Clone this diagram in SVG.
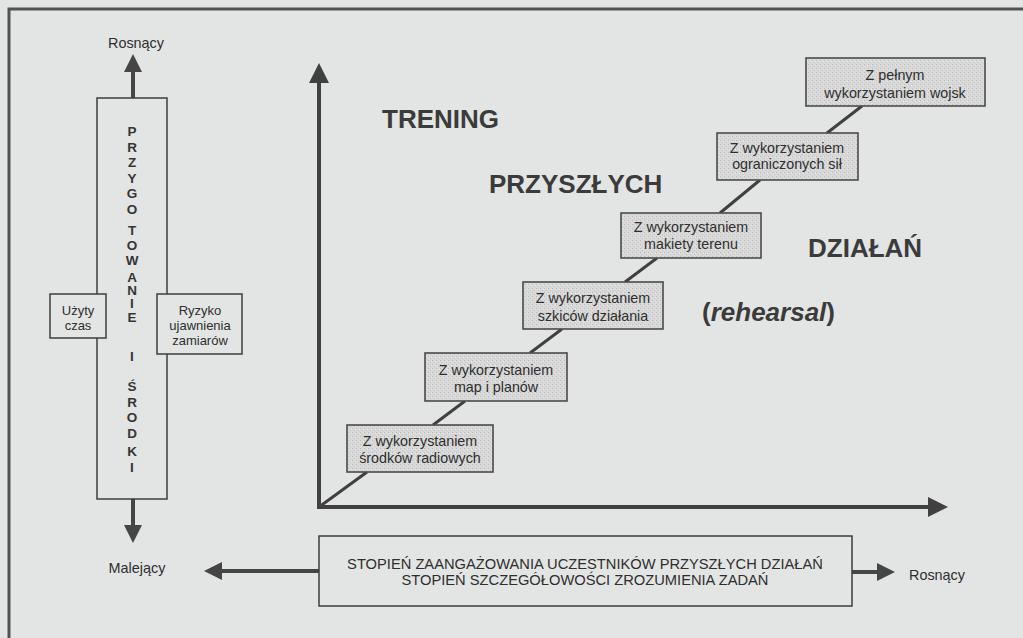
<svg xmlns="http://www.w3.org/2000/svg" width="1023" height="638" viewBox="0 0 1023 638">
  <style>
    .frame { stroke: #535353; stroke-width: 3; fill: none; }
    .axis { stroke: #404040; stroke-width: 4; fill: none; }
    .arrow { stroke: #454545; stroke-width: 4; fill: none; }
    .link { stroke: #404040; stroke-width: 3; fill: none; }
    .box { fill: #e3e5e4; stroke: #3c3c3c; stroke-width: 1.5; }
    .step { fill: url(#stipple); stroke: #4a4a4a; stroke-width: 1.6; }
    .t { font-family: "Liberation Sans", Arial, sans-serif; fill: #2e2e2e; text-anchor: middle; }
    .s14 { font-size: 14.3px; }
    .s13 { font-size: 13px; }
    .lbl { font-size: 14.4px; }
    .cap { font-size: 14.7px; }
    .col { font-family: "Liberation Sans", Arial, sans-serif; font-size: 13.5px; font-weight: bold; fill: #363636; text-anchor: middle; }
    .big { font-family: "Liberation Sans", Arial, sans-serif; font-size: 26px; font-weight: bold; fill: #3b3b3b; }
  </style>
  <defs>
    <pattern id="stipple" width="4" height="4" patternUnits="userSpaceOnUse">
      <rect width="4" height="4" fill="#d8d9d8"/>
      <rect x="0" y="0" width="1" height="1" fill="#b9bab9"/>
      <rect x="2" y="2" width="1" height="1" fill="#c4c5c4"/>
      <rect x="3" y="1" width="1" height="1" fill="#e6e7e6"/>
    </pattern>
    <marker id="headL" viewBox="0 0 20 20" markerWidth="20" markerHeight="20" refX="10" refY="10" orient="auto" markerUnits="userSpaceOnUse">
      <path d="M0,0 L20,10 L0,20 Z" fill="#404040"/>
    </marker>
    <marker id="headS" viewBox="0 0 18 18" markerWidth="18" markerHeight="18" refX="9" refY="9" orient="auto" markerUnits="userSpaceOnUse">
      <path d="M0,0 L18,9 L0,18 Z" fill="#454545"/>
    </marker>
  </defs>

  <!-- page -->
  <rect x="0" y="0" width="1023" height="638" fill="#e3e5e4"/>
  <path class="frame" d="M1023,9 L9,9 L9,638"/>

  <!-- connectors -->
  <g id="connectors">
    <line class="axis" x1="319" y1="509" x2="319" y2="73" marker-end="url(#headL)"/>
    <line class="axis" x1="317" y1="507" x2="938" y2="507" marker-end="url(#headL)"/>
    <line class="arrow" x1="133" y1="98" x2="133" y2="63" marker-end="url(#headS)"/>
    <line class="arrow" x1="133" y1="499" x2="133" y2="534" marker-end="url(#headS)"/>
    <line class="arrow" x1="319" y1="571" x2="213" y2="571" marker-end="url(#headS)"/>
    <line class="arrow" x1="852" y1="572" x2="886" y2="572" marker-end="url(#headS)"/>
    <line class="link" x1="319" y1="507" x2="367" y2="472"/>
    <line class="link" x1="433" y1="425" x2="465" y2="401"/>
    <line class="link" x1="530" y1="353" x2="562" y2="329"/>
    <line class="link" x1="625" y1="282" x2="657" y2="258"/>
    <line class="link" x1="720" y1="213" x2="760" y2="180"/>
    <line class="link" x1="827" y1="133" x2="862" y2="106"/>
  </g>

  <!-- axis end labels -->
  <g id="label-up"><text class="t lbl" x="136" y="48">Rosnący</text></g>
  <g id="label-down"><text class="t lbl" x="137" y="573">Malejący</text></g>
  <g id="label-right"><text class="t lbl" x="937" y="580">Rosnący</text></g>

  <!-- vertical column -->
  <g id="przygotowanie">
    <rect class="box" x="97" y="98" width="70" height="401"/>
    <text class="col" x="132" y="136">P</text>
    <text class="col" x="132" y="152">R</text>
    <text class="col" x="132" y="167">Z</text>
    <text class="col" x="132" y="183">Y</text>
    <text class="col" x="132" y="198">G</text>
    <text class="col" x="132" y="214">O</text>
    <text class="col" x="132" y="235">T</text>
    <text class="col" x="132" y="250">O</text>
    <text class="col" x="132" y="265">W</text>
    <text class="col" x="132" y="282">A</text>
    <text class="col" x="132" y="295">N</text>
    <text class="col" x="132" y="308">I</text>
    <text class="col" x="132" y="322">E</text>
    <text class="col" x="132" y="361">I</text>
    <text class="col" x="132" y="391">Ś</text>
    <text class="col" x="132" y="407">R</text>
    <text class="col" x="132" y="422">O</text>
    <text class="col" x="132" y="438">D</text>
    <text class="col" x="132" y="456">K</text>
    <text class="col" x="132" y="472">I</text>
  </g>

  <g id="uzyty-czas">
    <rect class="box" x="50" y="294" width="56" height="44"/>
    <text class="t s13" x="78" y="315">Użyty</text>
    <text class="t s13" x="78" y="330">czas</text>
  </g>

  <g id="ryzyko">
    <rect class="box" x="157" y="294" width="85" height="60"/>
    <text class="t s13" x="200" y="315">Ryzyko</text>
    <text class="t s13" x="200" y="330">ujawnienia</text>
    <text class="t s13" x="200" y="345">zamiarów</text>
  </g>

  <!-- steps -->
  <g id="step-1">
    <rect class="step" x="347" y="425" width="146" height="47"/>
    <text class="t s14" x="420" y="446">Z wykorzystaniem</text>
    <text class="t s14" x="420" y="463">środków radiowych</text>
  </g>
  <g id="step-2">
    <rect class="step" x="425" y="353" width="142" height="48"/>
    <text class="t s14" x="496" y="375">Z wykorzystaniem</text>
    <text class="t s14" x="496" y="392">map i planów</text>
  </g>
  <g id="step-3">
    <rect class="step" x="523" y="282" width="140" height="47"/>
    <text class="t s14" x="593" y="303">Z wykorzystaniem</text>
    <text class="t s14" x="593" y="321">szkiców działania</text>
  </g>
  <g id="step-4">
    <rect class="step" x="621" y="213" width="140" height="45"/>
    <text class="t s14" x="691" y="232">Z wykorzystaniem</text>
    <text class="t s14" x="691" y="249">makiety terenu</text>
  </g>
  <g id="step-5">
    <rect class="step" x="717" y="133" width="141" height="47"/>
    <text class="t s14" x="787" y="153">Z wykorzystaniem</text>
    <text class="t s14" x="787" y="169">ograniczonych sił</text>
  </g>
  <g id="step-6">
    <rect class="step" x="806" y="58" width="179" height="48"/>
    <text class="t s14" x="895" y="80">Z pełnym</text>
    <text class="t s14" x="895" y="98">wykorzystaniem wojsk</text>
  </g>

  <!-- headline words -->
  <g id="title">
    <text class="big" x="382" y="128">TRENING</text>
    <text class="big" x="489" y="193">PRZYSZŁYCH</text>
    <text class="big" x="808" y="257">DZIAŁAŃ</text>
    <text class="big" x="702" y="321">(<tspan font-style="italic">rehearsal</tspan>)</text>
  </g>

  <!-- bottom axis caption -->
  <g id="stopien">
    <rect class="box" x="319" y="536" width="533" height="70"/>
    <text class="t cap" x="585" y="569">STOPIEŃ ZAANGAŻOWANIA UCZESTNIKÓW PRZYSZŁYCH DZIAŁAŃ</text>
    <text class="t cap" x="585" y="585">STOPIEŃ SZCZEGÓŁOWOŚCI ZROZUMIENIA ZADAŃ</text>
  </g>
</svg>
